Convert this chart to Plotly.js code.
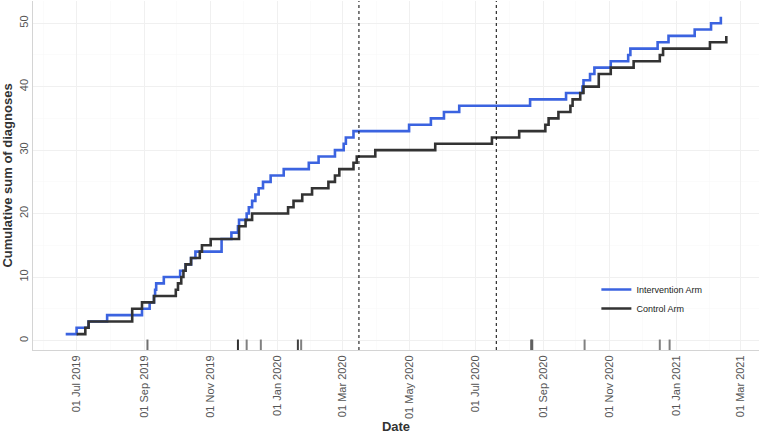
<!DOCTYPE html>
<html>
<head>
<meta charset="utf-8">
<script src="https://cdn.plot.ly/plotly-3.0.1.min.js"></script>
<style>html,body{margin:0;padding:0;background:#fff;}#chart{width:760px;height:434px;}</style>
</head>
<body>
<div id="chart"></div>
<script>
const interventionDates = ['2019-06-21','2019-07-01','2019-07-12','2019-07-29','2019-08-30','2019-09-06','2019-09-10','2019-09-11','2019-09-12','2019-09-19','2019-10-04','2019-10-09','2019-10-14','2019-10-18','2019-11-11','2019-11-20','2019-11-26','2019-11-27','2019-12-04','2019-12-06','2019-12-09','2019-12-12','2019-12-15','2019-12-19','2019-12-26','2020-01-07','2020-01-30','2020-02-08','2020-02-23','2020-03-02','2020-03-04','2020-03-11','2020-05-01','2020-05-21','2020-06-02','2020-06-16','2020-08-20','2020-09-22','2020-10-07','2020-10-08','2020-10-14','2020-10-18','2020-11-02','2020-11-18','2020-11-20','2020-12-15','2020-12-25','2021-01-18','2021-02-02','2021-02-11'];
const interventionCum = [1,2,3,4,5,6,7,8,9,10,11,12,13,14,16,17,18,19,20,21,22,23,24,25,26,27,28,29,30,31,32,33,34,35,36,37,38,39,40,41,42,43,44,45,46,47,48,49,50,51];

const controlDates = ['2019-07-01','2019-07-09','2019-07-12','2019-08-21','2019-08-30','2019-09-10','2019-09-30','2019-10-02','2019-10-05','2019-10-07','2019-10-09','2019-10-14','2019-10-22','2019-10-24','2019-11-01','2019-11-27','2019-12-03','2019-12-09','2020-01-11','2020-01-16','2020-01-24','2020-02-02','2020-02-17','2020-02-23','2020-02-27','2020-03-11','2020-03-14','2020-03-31','2020-05-25','2020-07-16','2020-08-10','2020-09-03','2020-09-06','2020-09-15','2020-09-26','2020-09-28','2020-10-05','2020-10-08','2020-10-22','2020-11-02','2020-11-23','2020-12-17','2020-12-20','2021-02-01','2021-02-16'];
const controlCum = [1,2,3,5,6,7,8,9,10,11,12,13,14,15,16,18,19,20,21,22,23,24,25,26,27,28,29,30,31,32,33,34,35,36,37,38,39,40,42,43,44,45,46,47,48];

const rugDates = ['2019-09-04','2019-11-26','2019-12-04','2019-12-17','2020-01-20','2020-01-23','2020-08-21','2020-08-22','2020-10-09','2020-12-17','2020-12-26'];
const rugColors = ['#707070','#303030','#808080','#808080','#404040','#808080','#606060','#606060','#808080','#808080','#808080'];

const eventDates = ['2020-03-16','2020-07-20'];

const seriesNames = ['Intervention Arm','Control Arm'];
const seriesColors = ['#3b63e0','#333333'];

const FONT = 'Liberation Sans, Arial, sans-serif';

const traces = [
  {x: interventionDates, y: interventionCum, name: seriesNames[0], type: 'scatter', mode: 'lines',
   line: {shape: 'hv', color: seriesColors[0], width: 2.6}},
  {x: controlDates, y: controlCum, name: seriesNames[1], type: 'scatter', mode: 'lines',
   line: {shape: 'hv', color: seriesColors[1], width: 2.6}}
];

const shapes = [];
rugDates.forEach((d, i) => shapes.push({type: 'line', xref: 'x', yref: 'paper', x0: d, x1: d, y0: 0, y1: 0.03,
  line: {color: rugColors[i], width: 2}}));
eventDates.forEach(d => shapes.push({type: 'line', xref: 'x', yref: 'paper', x0: d, x1: d, y0: 0, y1: 1,
  line: {color: '#000000', width: 1, dash: '3px,3px'}}));

const layout = {
  width: 760, height: 434,
  margin: {l: 33, r: 1, t: 1, b: 84},
  paper_bgcolor: '#ffffff', plot_bgcolor: '#ffffff',
  font: {family: FONT, color: '#4d4d4d'},
  showlegend: true,
  legend: {x: 0.776, y: 0.215, xanchor: 'left', yanchor: 'top', bgcolor: 'rgba(0,0,0,0)',
    font: {family: FONT, size: 9, color: '#222222'}},
  xaxis: {
    type: 'date', range: ['2019-05-22', '2021-03-18'],
    tick0: '2019-07-01', dtick: 'M2', tickformat: '%d %b %Y', tickangle: -90,
    tickfont: {family: FONT, size: 11, color: '#555555'},
    showgrid: true, gridcolor: '#f0f0f0', gridwidth: 1,
    minor: {dtick: 'M1', showgrid: true, gridcolor: '#f8f8f8', gridwidth: 0.6},
    showline: true, linecolor: '#d4d4d4', linewidth: 1, zeroline: false, ticks: '',
    title: {text: 'Date', font: {family: FONT, size: 13, color: '#333333', weight: 'bold'}, standoff: 8}
  },
  yaxis: {
    range: [-1.5, 53.5], tick0: 0, dtick: 10, tickangle: -90,
    tickfont: {family: FONT, size: 11, color: '#555555'},
    showgrid: true, gridcolor: '#f0f0f0', gridwidth: 1,
    minor: {dtick: 5, showgrid: true, gridcolor: '#f8f8f8', gridwidth: 0.6},
    showline: true, linecolor: '#d4d4d4', linewidth: 1, zeroline: false, ticks: '',
    title: {text: 'Cumulative sum of diagnoses', font: {family: FONT, size: 13, color: '#333333', weight: 'bold'}, standoff: 4}
  },
  shapes: shapes
};

Plotly.newPlot('chart', traces, layout, {displayModeBar: false, staticPlot: true});
</script>
</body>
</html>
